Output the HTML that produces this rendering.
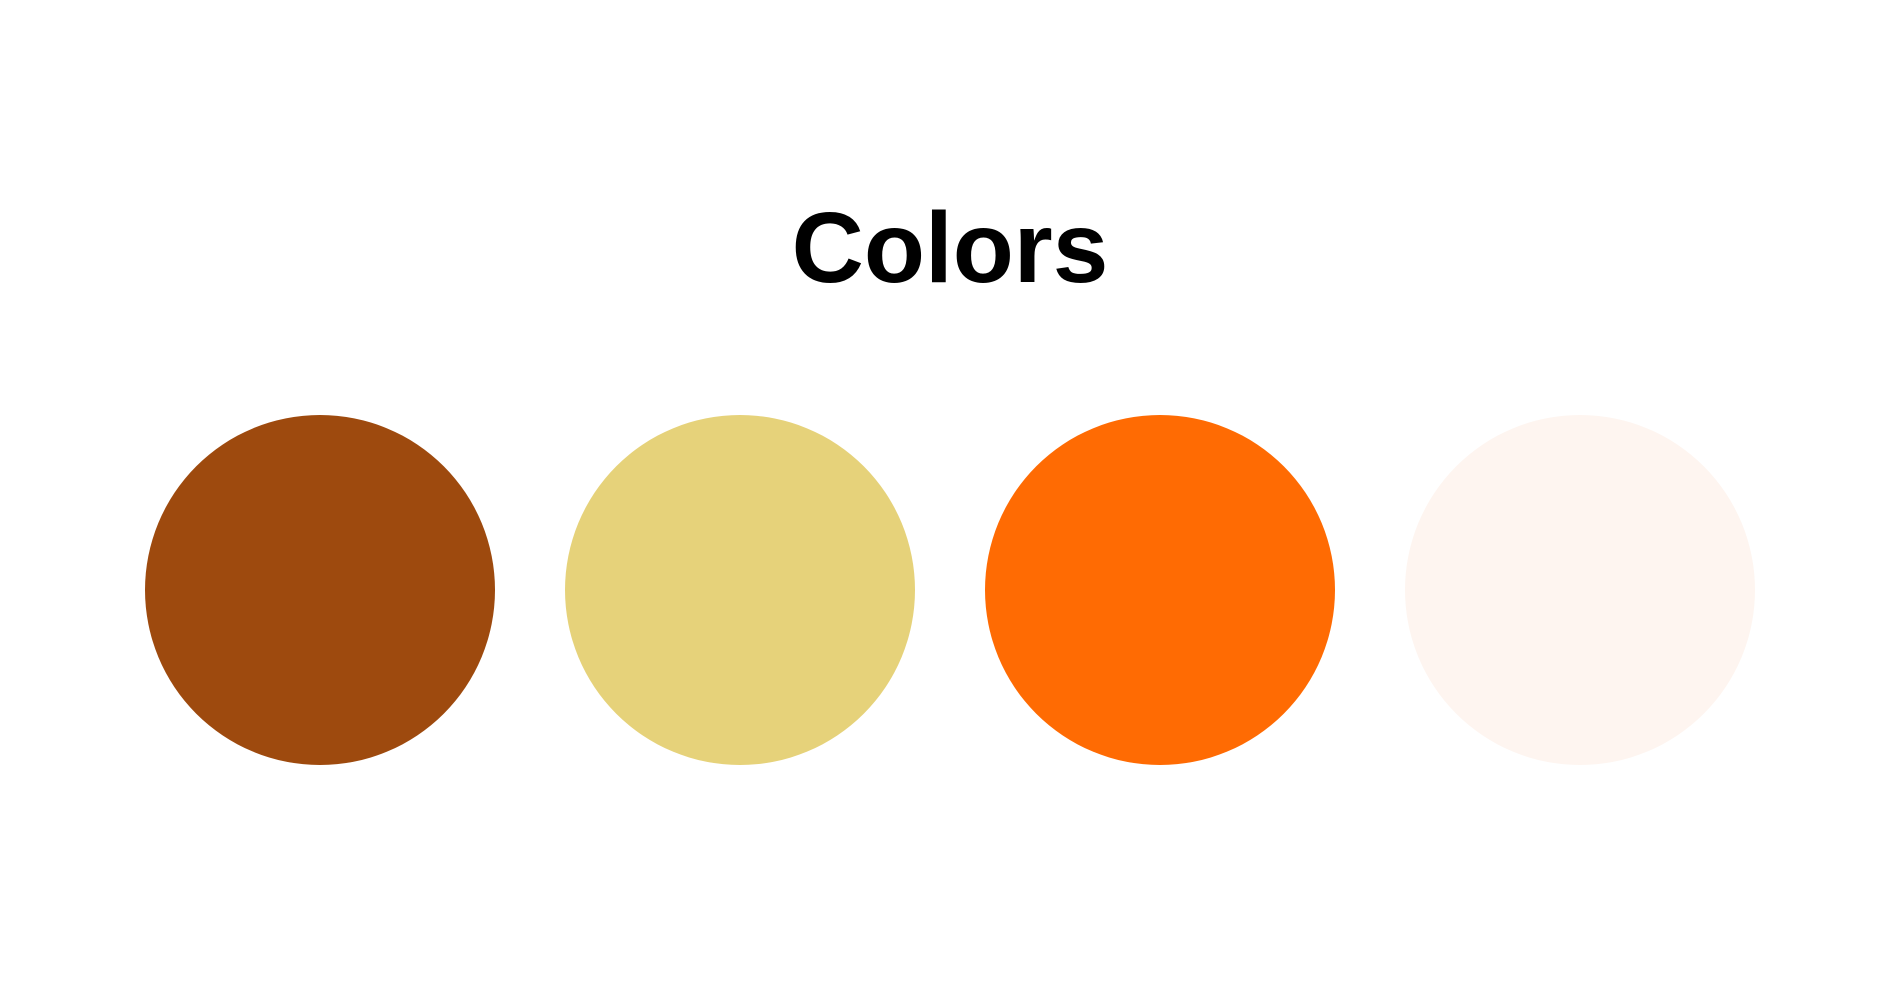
<!DOCTYPE html>
<html>
<head>
<meta charset="utf-8">
<style>
  html,body{margin:0;padding:0;background:#fff;}
  body{width:1900px;height:1000px;position:relative;overflow:hidden;}
  #title{position:absolute;left:0;width:1900px;top:198px;text-align:center;
    font-family:"Liberation Sans",sans-serif;font-weight:bold;font-size:100px;color:#000;line-height:100px;letter-spacing:0px;}
  svg{position:absolute;left:0;top:0;}
</style>
</head>
<body>
<div id="title">Colors</div>
<svg id="chart" width="1900" height="1000"></svg>
<script>
const swatchNames = ["brown", "sand", "orange", "blush"];
const swatchColors = ["#9E4A0E", "#E6D27A", "#FF6B03", "#FEF5F0"];

const svg = document.getElementById('chart');
const left = 320, right = 1580, cy = 590, r = 175;
function xPos(i){ return swatchColors.length > 1 ? left + i * (right - left) / (swatchColors.length - 1) : (left + right) / 2; }
swatchColors.forEach((c, i) => {
  const el = document.createElementNS('http://www.w3.org/2000/svg', 'circle');
  el.setAttribute('cx', xPos(i));
  el.setAttribute('cy', cy);
  el.setAttribute('r', r);
  el.setAttribute('fill', c);
  
  
  svg.appendChild(el);
});
</script>
</body>
</html>
